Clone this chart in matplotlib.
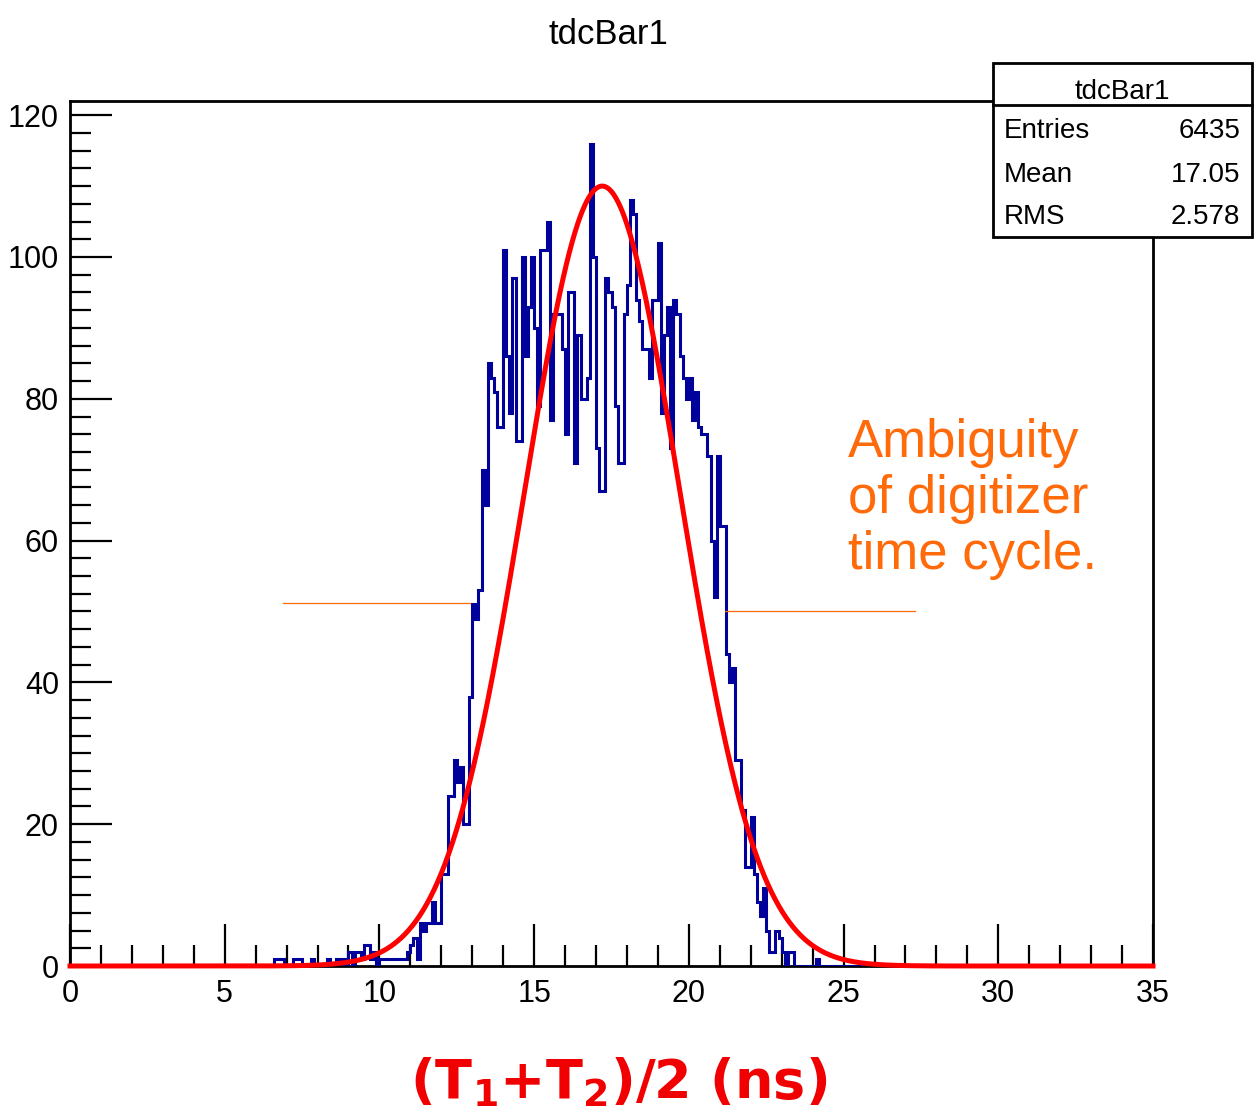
import numpy as np
import matplotlib
matplotlib.use("Agg")
import matplotlib.pyplot as plt
from matplotlib.ticker import MultipleLocator
from matplotlib.patches import Rectangle
from matplotlib.lines import Line2D

# ---------------- data ----------------
hist_name = "tdcBar1"
x_min, x_max = 0.0, 35.0
bin_width = 0.1
first_bin = 6.6          # low edge of the first listed bin (ns)
counts = [
    1, 1, 1, 0, 0, 0, 1, 1, 1, 0,          # 6.6 - 7.5
    0, 0, 1, 0, 0, 0, 0, 1, 0, 0,          # 7.6 - 8.5
    1, 0, 1, 0, 2, 0, 2, 2, 1, 3,          # 8.6 - 9.5
    3, 1, 2, 0, 1, 1, 1, 1, 1, 1,          # 9.6 - 10.5
    1, 1, 1, 2, 3, 4, 1, 6, 5, 6,          # 10.6 - 11.5
    6, 9, 6, 6, 13, 13, 24, 24, 29, 26,    # 11.6 - 12.5
    28, 20, 20, 38, 51, 49, 53, 70, 65, 85,  # 12.6 - 13.5
    83, 81, 76, 76, 101, 86, 78, 97, 74, 74,  # 13.6 - 14.5
    100, 86, 93, 100, 90, 79, 101, 101, 105, 77,  # 14.6 - 15.5
    92, 92, 92, 87, 75, 95, 95, 71, 89, 80,  # 15.6 - 16.5
    80, 83, 116, 100, 73, 67, 67, 97, 95, 93,  # 16.6 - 17.5
    79, 71, 71, 92, 96, 108, 106, 94, 91, 87,  # 17.6 - 18.5
    87, 83, 94, 94, 102, 78, 89, 93, 73, 94,  # 18.6 - 19.5
    92, 86, 83, 80, 83, 77, 81, 76, 75, 75,  # 19.6 - 20.5
    72, 60, 52, 72, 62, 62, 44, 40, 42, 29,  # 20.6 - 21.5
    29, 22, 14, 14, 21, 13, 9, 7, 11, 5,    # 21.6 - 22.5
    2, 2, 5, 4, 2, 0, 2, 2, 0, 0,          # 22.6 - 23.5
    0, 0, 0, 0, 0, 1,                      # 23.6 - 24.1
]
stat_labels = ["Entries", "Mean", "RMS"]
stat_values = ["6435", "17.05", "2.578"]
fit_amp, fit_mean, fit_sigma = 110.0, 17.2, 2.52
x_ticks = [0, 5, 10, 15, 20, 25, 30, 35]
y_ticks = [0, 20, 40, 60, 80, 100, 120]
annotation = "Ambiguity\nof digitizer\ntime cycle."
x_title = r"(T$_\mathbf{1}$+T$_\mathbf{2}$)/2 (ns)"

# ---------------- figure ----------------
W, H = 1254, 1119
root_font = ["Liberation Sans Narrow", "Liberation Sans", "DejaVu Sans"]
plt.rcParams["font.family"] = root_font
plt.rcParams["mathtext.fontset"] = "dejavusans"

fig = plt.figure(figsize=(W / 100, H / 100), dpi=100)
fig.patch.set_facecolor("white")


def fx(px):
    return px / W


def fy(py):
    return 1 - py / H


ax = fig.add_axes([fx(70), fy(966), fx(1153) - fx(70), fy(101) - fy(966)])

nbins = int(round((x_max - x_min) / bin_width))
edges = np.linspace(x_min, x_max, nbins + 1)
full = np.zeros(nbins)
i0 = int(round((first_bin - x_min) / bin_width))
full[i0:i0 + len(counts)] = counts

ax.stairs(full, edges, color="#00009a", lw=2.2, zorder=3)

xs = np.linspace(x_min, x_max, 1500)
ys = fit_amp * np.exp(-0.5 * ((xs - fit_mean) / fit_sigma) ** 2)
ax.plot(xs, ys, color="#ff0000", lw=3.6, zorder=4, clip_on=False)

ax.set_xlim(x_min, x_max)
ax.set_ylim(0, 122)
ax.set_xticks(x_ticks)
ax.set_yticks(y_ticks)
ax.xaxis.set_minor_locator(MultipleLocator(1))
ax.yaxis.set_minor_locator(MultipleLocator(2.5))
ax.tick_params(which="major", direction="in", length=30, width=1.6,
               labelsize=22, top=False, right=False)
ax.tick_params(which="minor", direction="in", length=15, width=1.6,
               top=False, right=False)
ax.tick_params(axis="x", pad=9)
ax.tick_params(axis="y", pad=8)
for s in ax.spines.values():
    s.set_linewidth(2)

# title
fig.text(fx(608), fy(35), hist_name, ha="center", va="center", fontsize=25)

# stats box
box = Rectangle((fx(993), fy(237)), fx(1252) - fx(993), fy(63) - fy(237),
                transform=fig.transFigure, facecolor="white", edgecolor="black",
                lw=2, zorder=10)
fig.add_artist(box)
fig.add_artist(Line2D([fx(993), fx(1252)], [fy(105), fy(105)],
                      transform=fig.transFigure, color="black", lw=2, zorder=11))
fig.text(fx(1122), fy(92), hist_name, ha="center", va="center", fontsize=20, zorder=12)
row_y = [131, 175, 217]
for lab, val, ry in zip(stat_labels, stat_values, row_y):
    fig.text(fx(1004), fy(ry), lab, ha="left", va="center", fontsize=20, zorder=12)
    fig.text(fx(1240), fy(ry), val, ha="right", va="center", fontsize=20, zorder=12)

# annotation lines and text
orange = "#ff6a0a"
fig.add_artist(Line2D([fx(283), fx(470)], [fy(603), fy(603)],
                      transform=fig.transFigure, color=orange, lw=0.9, zorder=5))
fig.add_artist(Line2D([fx(725), fx(915)], [fy(611), fy(611)],
                      transform=fig.transFigure, color=orange, lw=0.9, zorder=5))
fig.text(fx(848), fy(418), annotation, ha="left", va="top", color=orange,
         fontsize=38, linespacing=1.16, family=["Liberation Sans", "DejaVu Sans"])

# x axis title
fig.text(fx(619), fy(1082), x_title, ha="center", va="center", color="#f00000",
         fontsize=39, fontweight="bold", family=["DejaVu Sans"])

fig.savefig("out.png", dpi=100, facecolor="white")
